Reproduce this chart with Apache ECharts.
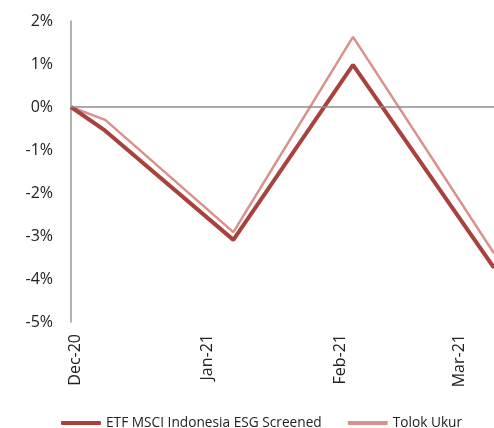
<!DOCTYPE html>
<html>
<head>
<meta charset="utf-8">
<script src="https://cdn.jsdelivr.net/npm/echarts@6/dist/echarts.min.js"></script>
<style>
  html, body { margin: 0; padding: 0; background: #fff; }
  #echar { width: 494px; height: 428px; }
</style>
</head>
<body>
<div id="echar"></div>
<script>
// data
var dates = ['2020-11-30', '2020-12-08', '2021-01-07', '2021-02-04', '2021-03-09'];
var etfValues = [0, -0.55, -3.09, 0.98, -3.74];
var benchValues = [0, -0.30, -2.91, 1.63, -3.40];
var tickDates = ['2020-12-01', '2021-01-01', '2021-02-01', '2021-03-01'];
var tickLabels = ['Dec-20', 'Jan-21', 'Feb-21', 'Mar-21'];
var yTicks = [-5, -4, -3, -2, -1, 0, 1, 2];

// days since first date, used as the x value
var dayOf = function (d) {
    return Math.round((new Date(d + 'T00:00:00Z') - new Date(dates[0] + 'T00:00:00Z')) / 86400000);
};
var pairs = function (vals) {
    return dates.map(function (d, i) { return [dayOf(d), vals[i]]; });
};
var tickDays = tickDates.map(dayOf);

var myChart = echarts.init(document.getElementById('echar'));
var font = 'Open Sans';

option = {
    animation: false,
    grid: { left: 71, right: 0, top: 21, bottom: 106 },
    legend: {
        left: 56,
        top: 411,
        itemWidth: 40,
        itemHeight: 4,
        itemGap: 26,
        icon: 'roundRect',
        textStyle: { fontFamily: font, fontSize: 13.7, color: '#222' },
        data: ['ETF MSCI Indonesia ESG Screened', 'Tolok Ukur']
    },
    xAxis: {
        type: 'value',
        min: 0,
        max: dayOf(dates[dates.length - 1]),
        axisLine: { show: false, onZero: false },
        axisTick: { show: false },
        splitLine: { show: false },
        axisLabel: {
            customValues: tickDays,
            rotate: 90,
            margin: 12,
            fontFamily: font,
            fontSize: 16,
            color: '#222',
            formatter: function (v) {
                var i = tickDays.indexOf(v);
                return i >= 0 ? tickLabels[i] : '';
            }
        }
    },
    yAxis: {
        type: 'value',
        min: yTicks[0],
        max: yTicks[yTicks.length - 1],
        interval: 1,
        axisLine: { show: true, lineStyle: { color: '#999', width: 1.5 } },
        axisTick: { show: false },
        splitLine: { show: false },
        axisLabel: {
            margin: 18,
            fontFamily: font,
            fontSize: 16,
            color: '#222',
            formatter: '{value}%'
        }
    },
    series: [{
        name: 'ETF MSCI Indonesia ESG Screened',
        type: 'line',
        data: pairs(etfValues),
        symbol: 'none',
        color: '#A9423D',
        lineStyle: { width: 4, color: '#A9423D' },
        z: 3,
        markLine: {
            silent: true,
            symbol: 'none',
            label: { show: false },
            lineStyle: { color: '#8c8c8c', width: 1.5, type: 'solid' },
            data: [{ yAxis: 0 }]
        }
    }, {
        name: 'Tolok Ukur',
        type: 'line',
        data: pairs(benchValues),
        symbol: 'none',
        color: '#D9918E',
        lineStyle: { width: 2.5, color: '#D9918E' },
        z: 2
    }]
};

myChart.setOption(option);
</script>
</body>
</html>
